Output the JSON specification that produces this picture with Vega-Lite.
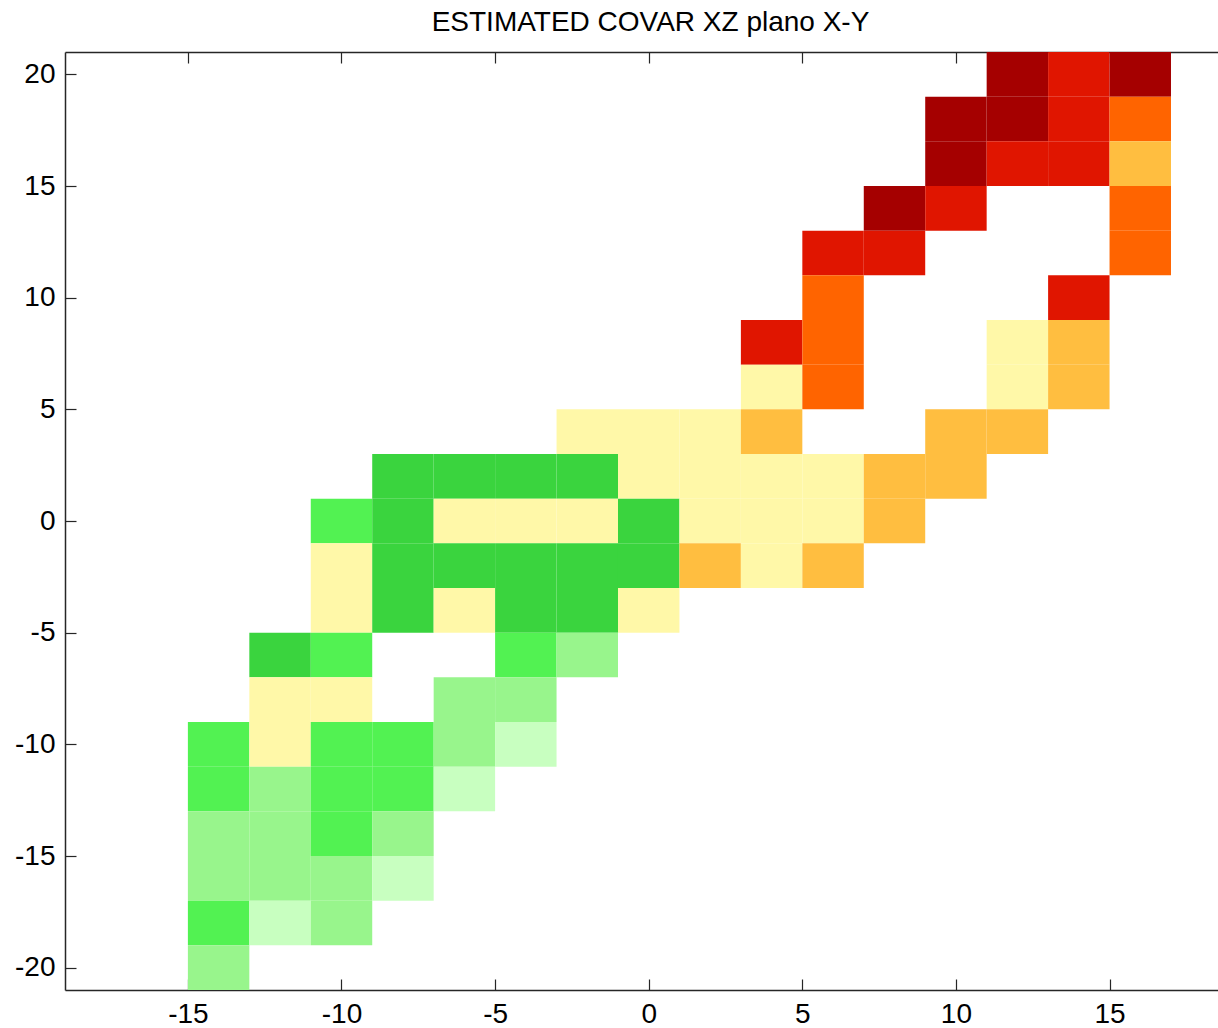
{
  "$schema": "https://vega.github.io/schema/vega-lite/v6.json",
  "width": 1153,
  "height": 938,
  "autosize": {"type": "none"},
  "padding": {"left": 65, "top": 52, "right": 0, "bottom": 38},
  "background": "white",
  "title": {
    "text": "ESTIMATED COVAR XZ plano X-Y",
    "font": "Liberation Sans",
    "fontSize": 28,
    "fontWeight": "normal",
    "color": "black",
    "anchor": "middle",
    "dx": 9,
    "offset": 14
  },
  "config": {
    "view": {"stroke": null},
    "axis": {
      "labelFont": "Liberation Sans",
      "labelFontSize": 28,
      "labelColor": "black",
      "labelExpr": "'' + datum.value",
      "domainColor": "#262626",
      "domainWidth": 1.5,
      "tickColor": "#262626",
      "tickWidth": 1.2,
      "tickSize": -11,
      "grid": false,
      "title": null
    }
  },
  "data": {
    "values": [
      {"x0": 11, "x1": 13, "y0": 19, "y1": 21, "k": "dr"},
      {"x0": 13, "x1": 15, "y0": 19, "y1": 21, "k": "r"},
      {"x0": 15, "x1": 17, "y0": 19, "y1": 21, "k": "dr"},
      {"x0": 9, "x1": 11, "y0": 17, "y1": 19, "k": "dr"},
      {"x0": 11, "x1": 13, "y0": 17, "y1": 19, "k": "dr"},
      {"x0": 13, "x1": 15, "y0": 17, "y1": 19, "k": "r"},
      {"x0": 15, "x1": 17, "y0": 17, "y1": 19, "k": "o"},
      {"x0": 9, "x1": 11, "y0": 15, "y1": 17, "k": "dr"},
      {"x0": 11, "x1": 13, "y0": 15, "y1": 17, "k": "r"},
      {"x0": 13, "x1": 15, "y0": 15, "y1": 17, "k": "r"},
      {"x0": 15, "x1": 17, "y0": 15, "y1": 17, "k": "lo"},
      {"x0": 7, "x1": 9, "y0": 13, "y1": 15, "k": "dr"},
      {"x0": 9, "x1": 11, "y0": 13, "y1": 15, "k": "r"},
      {"x0": 15, "x1": 17, "y0": 13, "y1": 15, "k": "o"},
      {"x0": 5, "x1": 7, "y0": 11, "y1": 13, "k": "r"},
      {"x0": 7, "x1": 9, "y0": 11, "y1": 13, "k": "r"},
      {"x0": 15, "x1": 17, "y0": 11, "y1": 13, "k": "o"},
      {"x0": 5, "x1": 7, "y0": 9, "y1": 11, "k": "o"},
      {"x0": 13, "x1": 15, "y0": 9, "y1": 11, "k": "r"},
      {"x0": 3, "x1": 5, "y0": 7, "y1": 9, "k": "r"},
      {"x0": 5, "x1": 7, "y0": 7, "y1": 9, "k": "o"},
      {"x0": 11, "x1": 13, "y0": 7, "y1": 9, "k": "py"},
      {"x0": 13, "x1": 15, "y0": 7, "y1": 9, "k": "lo"},
      {"x0": 3, "x1": 5, "y0": 5, "y1": 7, "k": "py"},
      {"x0": 5, "x1": 7, "y0": 5, "y1": 7, "k": "o"},
      {"x0": 11, "x1": 13, "y0": 5, "y1": 7, "k": "py"},
      {"x0": 13, "x1": 15, "y0": 5, "y1": 7, "k": "lo"},
      {"x0": -3, "x1": -1, "y0": 3, "y1": 5, "k": "py"},
      {"x0": -1, "x1": 1, "y0": 3, "y1": 5, "k": "py"},
      {"x0": 1, "x1": 3, "y0": 3, "y1": 5, "k": "py"},
      {"x0": 3, "x1": 5, "y0": 3, "y1": 5, "k": "lo"},
      {"x0": 9, "x1": 11, "y0": 3, "y1": 5, "k": "lo"},
      {"x0": 11, "x1": 13, "y0": 3, "y1": 5, "k": "lo"},
      {"x0": -9, "x1": -7, "y0": 1, "y1": 3, "k": "dg"},
      {"x0": -7, "x1": -5, "y0": 1, "y1": 3, "k": "dg"},
      {"x0": -5, "x1": -3, "y0": 1, "y1": 3, "k": "dg"},
      {"x0": -3, "x1": -1, "y0": 1, "y1": 3, "k": "dg"},
      {"x0": -1, "x1": 1, "y0": 1, "y1": 3, "k": "py"},
      {"x0": 1, "x1": 3, "y0": 1, "y1": 3, "k": "py"},
      {"x0": 3, "x1": 5, "y0": 1, "y1": 3, "k": "py"},
      {"x0": 5, "x1": 7, "y0": 1, "y1": 3, "k": "py"},
      {"x0": 7, "x1": 9, "y0": 1, "y1": 3, "k": "lo"},
      {"x0": 9, "x1": 11, "y0": 1, "y1": 3, "k": "lo"},
      {"x0": -11, "x1": -9, "y0": -1, "y1": 1, "k": "g"},
      {"x0": -9, "x1": -7, "y0": -1, "y1": 1, "k": "dg"},
      {"x0": -7, "x1": -5, "y0": -1, "y1": 1, "k": "py"},
      {"x0": -5, "x1": -3, "y0": -1, "y1": 1, "k": "py"},
      {"x0": -3, "x1": -1, "y0": -1, "y1": 1, "k": "py"},
      {"x0": -1, "x1": 1, "y0": -1, "y1": 1, "k": "dg"},
      {"x0": 1, "x1": 3, "y0": -1, "y1": 1, "k": "py"},
      {"x0": 3, "x1": 5, "y0": -1, "y1": 1, "k": "py"},
      {"x0": 5, "x1": 7, "y0": -1, "y1": 1, "k": "py"},
      {"x0": 7, "x1": 9, "y0": -1, "y1": 1, "k": "lo"},
      {"x0": -11, "x1": -9, "y0": -3, "y1": -1, "k": "py"},
      {"x0": -9, "x1": -7, "y0": -3, "y1": -1, "k": "dg"},
      {"x0": -7, "x1": -5, "y0": -3, "y1": -1, "k": "dg"},
      {"x0": -5, "x1": -3, "y0": -3, "y1": -1, "k": "dg"},
      {"x0": -3, "x1": -1, "y0": -3, "y1": -1, "k": "dg"},
      {"x0": -1, "x1": 1, "y0": -3, "y1": -1, "k": "dg"},
      {"x0": 1, "x1": 3, "y0": -3, "y1": -1, "k": "lo"},
      {"x0": 3, "x1": 5, "y0": -3, "y1": -1, "k": "py"},
      {"x0": 5, "x1": 7, "y0": -3, "y1": -1, "k": "lo"},
      {"x0": -11, "x1": -9, "y0": -5, "y1": -3, "k": "py"},
      {"x0": -9, "x1": -7, "y0": -5, "y1": -3, "k": "dg"},
      {"x0": -7, "x1": -5, "y0": -5, "y1": -3, "k": "py"},
      {"x0": -5, "x1": -3, "y0": -5, "y1": -3, "k": "dg"},
      {"x0": -3, "x1": -1, "y0": -5, "y1": -3, "k": "dg"},
      {"x0": -1, "x1": 1, "y0": -5, "y1": -3, "k": "py"},
      {"x0": -13, "x1": -11, "y0": -7, "y1": -5, "k": "dg"},
      {"x0": -11, "x1": -9, "y0": -7, "y1": -5, "k": "g"},
      {"x0": -5, "x1": -3, "y0": -7, "y1": -5, "k": "g"},
      {"x0": -3, "x1": -1, "y0": -7, "y1": -5, "k": "lg"},
      {"x0": -13, "x1": -11, "y0": -9, "y1": -7, "k": "py"},
      {"x0": -11, "x1": -9, "y0": -9, "y1": -7, "k": "py"},
      {"x0": -7, "x1": -5, "y0": -9, "y1": -7, "k": "lg"},
      {"x0": -5, "x1": -3, "y0": -9, "y1": -7, "k": "lg"},
      {"x0": -15, "x1": -13, "y0": -11, "y1": -9, "k": "g"},
      {"x0": -13, "x1": -11, "y0": -11, "y1": -9, "k": "py"},
      {"x0": -11, "x1": -9, "y0": -11, "y1": -9, "k": "g"},
      {"x0": -9, "x1": -7, "y0": -11, "y1": -9, "k": "g"},
      {"x0": -7, "x1": -5, "y0": -11, "y1": -9, "k": "lg"},
      {"x0": -5, "x1": -3, "y0": -11, "y1": -9, "k": "pg"},
      {"x0": -15, "x1": -13, "y0": -13, "y1": -11, "k": "g"},
      {"x0": -13, "x1": -11, "y0": -13, "y1": -11, "k": "lg"},
      {"x0": -11, "x1": -9, "y0": -13, "y1": -11, "k": "g"},
      {"x0": -9, "x1": -7, "y0": -13, "y1": -11, "k": "g"},
      {"x0": -7, "x1": -5, "y0": -13, "y1": -11, "k": "pg"},
      {"x0": -15, "x1": -13, "y0": -15, "y1": -13, "k": "lg"},
      {"x0": -13, "x1": -11, "y0": -15, "y1": -13, "k": "lg"},
      {"x0": -11, "x1": -9, "y0": -15, "y1": -13, "k": "g"},
      {"x0": -9, "x1": -7, "y0": -15, "y1": -13, "k": "lg"},
      {"x0": -15, "x1": -13, "y0": -17, "y1": -15, "k": "lg"},
      {"x0": -13, "x1": -11, "y0": -17, "y1": -15, "k": "lg"},
      {"x0": -11, "x1": -9, "y0": -17, "y1": -15, "k": "lg"},
      {"x0": -9, "x1": -7, "y0": -17, "y1": -15, "k": "pg"},
      {"x0": -15, "x1": -13, "y0": -19, "y1": -17, "k": "g"},
      {"x0": -13, "x1": -11, "y0": -19, "y1": -17, "k": "pg"},
      {"x0": -11, "x1": -9, "y0": -19, "y1": -17, "k": "lg"},
      {"x0": -15, "x1": -13, "y0": -21, "y1": -19, "k": "lg"}
    ]
  },
  "layer": [
    {
      "mark": {"type": "rect", "strokeWidth": 0},
      "encoding": {
        "x": {
          "field": "x0", "type": "quantitative",
          "scale": {"domain": [-19, 18.53], "nice": false, "zero": false},
          "axis": {"orient": "bottom", "values": [-15, -10, -5, 0, 5, 10, 15], "labelPadding": 21}
        },
        "x2": {"field": "x1"},
        "y": {
          "field": "y0", "type": "quantitative",
          "scale": {"domain": [-21, 21], "nice": false, "zero": false},
          "axis": {"orient": "left", "values": [-20, -15, -10, -5, 0, 5, 10, 15, 20], "labelPadding": 21}
        },
        "y2": {"field": "y1"},
        "color": {
          "field": "k", "type": "nominal", "legend": null,
          "scale": {
            "domain": ["pg", "lg", "g", "dg", "py", "lo", "o", "r", "dr"],
            "range": ["#C8FFC0", "#98F58C", "#52F252", "#3AD43E", "#FFF8A8", "#FFBE40", "#FF6400", "#E01500", "#A50000"]
          }
        }
      }
    },
    {
      "mark": {"type": "rect", "opacity": 0},
      "encoding": {
        "x": {
          "field": "x0", "type": "quantitative",
          "axis": {"orient": "top", "values": [-15, -10, -5, 0, 5, 10, 15], "labels": false}
        },
        "x2": {"field": "x1"},
        "y": {"field": "y0", "type": "quantitative"},
        "y2": {"field": "y1"}
      }
    }
  ],
  "resolve": {"axis": {"x": "independent"}}
}
